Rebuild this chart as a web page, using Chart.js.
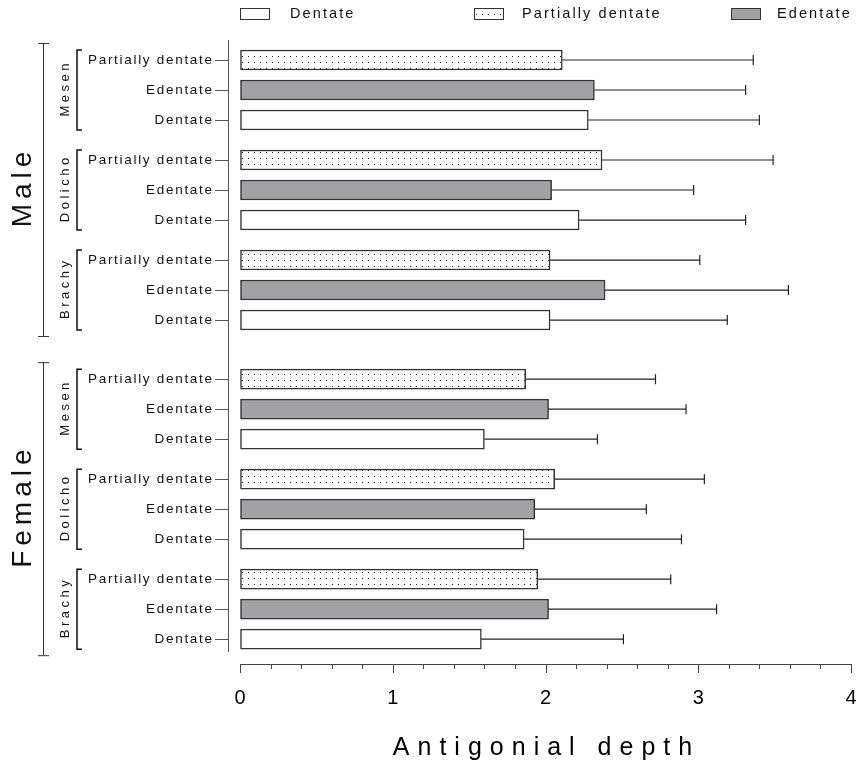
<!DOCTYPE html>
<html>
<head>
<meta charset="utf-8">
<script src="https://cdn.jsdelivr.net/npm/chart.js@4.4.1/dist/chart.umd.min.js"></script>
<style>
  body { margin: 0; background: #fff; }
  canvas { display: block; }
</style>
</head>
<body>
<canvas id="myChart" width="858" height="771"></canvas>
<script>
var sexes = ['Male', 'Female'];
var facialTypes = ['Mesen', 'Dolicho', 'Brachy'];
var dentition = ['Partially dentate', 'Edentate', 'Dentate']; // top to bottom inside each group
var legendOrder = ['Dentate', 'Partially dentate', 'Edentate'];

// order: Male Mesen, Male Dolicho, Male Brachy, Female Mesen, Female Dolicho, Female Brachy
var partialMean = [2.11, 2.37, 2.03, 1.87, 2.06, 1.95];
var partialSD   = [1.25, 1.12, 0.98, 0.85, 0.98, 0.87];
var edentMean   = [2.32, 2.04, 2.39, 2.02, 1.93, 2.02];
var edentSD     = [0.99, 0.93, 1.20, 0.90, 0.73, 1.10];
var dentMean    = [2.28, 2.22, 2.03, 1.60, 1.86, 1.58];
var dentSD      = [1.12, 1.09, 1.16, 0.74, 1.03, 0.93];

var xTicks = [0, 1, 2, 3, 4];
var xTitle = 'Antigonial depth';

var FONT = "'Liberation Sans', Arial, Helvetica, sans-serif";
Chart.defaults.font.family = FONT;

// row slots: 1 between rows, a bit more between groups, more between sexes
var groupGap = 4 / 3, sexGap = 1.97;
var slot = {}; // slot[group][type]
var p = 0, first = true;
sexes.forEach(function (sex, s) {
    if (s > 0) p += sexGap - 1;
    facialTypes.forEach(function (ft, f) {
        if (f > 0) p += groupGap - 1;
        var g = s * facialTypes.length + f;
        slot[g] = [];
        dentition.forEach(function (d, k) {
            if (!first) p += 1;
            first = false;
            slot[g][k] = p;
        });
    });
});

// dotted pattern for partially dentate
function dotPattern() {
    var c = document.createElement('canvas');
    c.width = 6; c.height = 6;
    var x = c.getContext('2d');
    x.fillStyle = '#fff';
    x.fillRect(0, 0, 6, 6);
    x.fillStyle = '#222';
    x.fillRect(2, 2, 1, 1);
    return document.getElementById('myChart').getContext('2d').createPattern(c, 'repeat');
}
var dots = dotPattern();

var styles = {
    'Partially dentate': { bg: dots, mean: partialMean, sd: partialSD },
    'Edentate': { bg: '#a2a1a6', mean: edentMean, sd: edentSD },
    'Dentate': { bg: '#ffffff', mean: dentMean, sd: dentSD }
};

var datasets = dentition.map(function (d, k) {
    var st = styles[d];
    return {
        label: d,
        data: st.mean.map(function (m, g) { return { x: m, y: slot[g][k] }; }),
        errors: st.sd,
        backgroundColor: st.bg,
        borderColor: '#333',
        borderWidth: 1.5,
        borderSkipped: false,
        barThickness: 20,
        grouped: false
    };
});

function spacedText(ctx, txt, x, y, align, spacing) {
    ctx.letterSpacing = spacing + 'px';
    var w = ctx.measureText(txt).width;
    var sx = x;
    if (align === 'right') sx = x - w + spacing;
    else if (align === 'center') sx = x - (w - spacing) / 2;
    ctx.textAlign = 'left';
    ctx.fillText(txt, sx, y);
    ctx.letterSpacing = '0px';
}

var decor = {
    id: 'decor',
    afterDatasetsDraw: function (chart) {
        var ctx = chart.ctx, xs = chart.scales.x, ys = chart.scales.y;
        ctx.save();
        // error bars
        ctx.strokeStyle = '#222';
        ctx.lineWidth = 1.2;
        chart.data.datasets.forEach(function (ds) {
            ds.data.forEach(function (pt, j) {
                var x0 = xs.getPixelForValue(pt.x);
                var x1 = xs.getPixelForValue(pt.x + ds.errors[j]);
                var y = ys.getPixelForValue(pt.y);
                ctx.beginPath();
                ctx.moveTo(x0, y); ctx.lineTo(x1, y);
                ctx.moveTo(x1, y - 5); ctx.lineTo(x1, y + 5);
                ctx.stroke();
            });
        });
        // x ticks (major + minor)
        ctx.strokeStyle = '#444';
        ctx.lineWidth = 1;
        var bottom = chart.chartArea.bottom;
        for (var i = 0; i < xTicks.length; i++) {
            for (var m = 0; m < 5; m++) {
                if (i === xTicks.length - 1 && m > 0) break;
                var xv = xs.getPixelForValue(xTicks[i] + m * 0.2);
                ctx.beginPath();
                ctx.moveTo(Math.round(xv) + 0.5, bottom);
                ctx.lineTo(Math.round(xv) + 0.5, bottom + (m === 0 ? 9 : 5));
                ctx.stroke();
            }
        }
        // y axis line
        var axX = 228.5;
        ctx.strokeStyle = '#555';
        ctx.beginPath();
        ctx.moveTo(axX, 40); ctx.lineTo(axX, 652);
        ctx.stroke();

        // row labels and ticks
        ctx.fillStyle = '#111';
        ctx.textBaseline = 'middle';
        ctx.font = '13.5px ' + FONT;
        Object.keys(slot).forEach(function (g) {
            dentition.forEach(function (d, k) {
                var y = ys.getPixelForValue(slot[g][k]);
                ctx.beginPath();
                ctx.moveTo(215, Math.round(y) + 0.5); ctx.lineTo(axX, Math.round(y) + 0.5);
                ctx.stroke();
                spacedText(ctx, d, 212, y, 'right', 1.7);
            });
        });

        // facial type brackets
        ctx.strokeStyle = '#111';
        ctx.lineWidth = 1.5;
        sexes.forEach(function (sex, s) {
            facialTypes.forEach(function (ft, f) {
                var g = s * facialTypes.length + f;
                var yTop = ys.getPixelForValue(slot[g][0]) - 10;
                var yBot = ys.getPixelForValue(slot[g][dentition.length - 1]) + 10;
                ctx.beginPath();
                ctx.moveTo(82, yTop); ctx.lineTo(77, yTop); ctx.lineTo(77, yBot); ctx.lineTo(82, yBot);
                ctx.stroke();
                ctx.save();
                ctx.translate(65, (yTop + yBot) / 2);
                ctx.rotate(-Math.PI / 2);
                ctx.font = '13px ' + FONT;
                spacedText(ctx, ft, 0, 0, 'center', 3.5);
                ctx.restore();
            });
            // sex bracket
            var g0 = s * facialTypes.length, g1 = g0 + facialTypes.length - 1;
            var sTop = ys.getPixelForValue(slot[g0][0]) - 17;
            var sBot = ys.getPixelForValue(slot[g1][dentition.length - 1]) + 16;
            ctx.lineWidth = 1;
            ctx.strokeStyle = '#333';
            ctx.beginPath();
            ctx.moveTo(43.5, sTop); ctx.lineTo(43.5, sBot);
            ctx.moveTo(38, sTop + 0.5); ctx.lineTo(49, sTop + 0.5);
            ctx.moveTo(38, sBot + 0.5); ctx.lineTo(49, sBot + 0.5);
            ctx.stroke();
            ctx.lineWidth = 1.5;
            ctx.strokeStyle = '#111';
            ctx.save();
            ctx.translate(23, (sTop + sBot) / 2);
            ctx.rotate(-Math.PI / 2);
            ctx.font = '28px ' + FONT;
            spacedText(ctx, sex, 0, 0, 'center', 5);
            ctx.restore();
        });

        // x axis title
        ctx.font = '25px ' + FONT;
        ctx.fillStyle = '#000';
        spacedText(ctx, xTitle, (chart.chartArea.left + chart.chartArea.right) / 2 - 3, 748, 'center', 8);

        // legend
        var items = [{ x: 240, tx: 290 }, { x: 474, tx: 522 }, { x: 731, tx: 777 }];
        ctx.font = '14.5px ' + FONT;
        ctx.lineWidth = 1;
        legendOrder.forEach(function (name, i) {
            var it = items[i];
            ctx.fillStyle = styles[name].bg;
            ctx.fillRect(it.x, 8, 29, 11);
            ctx.strokeStyle = '#333';
            ctx.strokeRect(it.x + 0.5, 8.5, 29, 11);
            ctx.fillStyle = '#111';
            spacedText(ctx, name, it.tx, 14, 'left', 2.1);
        });
        ctx.restore();
    }
};

var ctx = document.getElementById('myChart').getContext('2d');
var myChart = new Chart(ctx, {
    type: 'bar',
    data: { datasets: datasets },
    options: {
        indexAxis: 'y',
        responsive: false,
        animation: false,
        layout: { padding: { left: 240, right: 7, top: 40, bottom: 0 } },
        plugins: { legend: { display: false }, tooltip: { enabled: false } },
        scales: {
            y: {
                type: 'linear',
                reverse: true,
                display: false,
                offset: false,
                min: -2 / 3,
                max: 20.13
            },
            x: {
                type: 'linear',
                position: 'bottom',
                min: xTicks[0],
                max: xTicks[xTicks.length - 1],
                afterFit: function (scale) { scale.height = 107; },
                afterBuildTicks: function (scale) {
                    scale.ticks = xTicks.map(function (v) { return { value: v }; });
                },
                grid: { drawOnChartArea: false, drawTicks: true, tickLength: 22, tickColor: 'rgba(0,0,0,0)' },
                border: { display: true, color: '#444', width: 1 },
                ticks: { color: '#000', font: { size: 20 }, padding: 0, maxRotation: 0 }
            }
        }
    },
    plugins: [decor]
});
</script>
</body>
</html>
